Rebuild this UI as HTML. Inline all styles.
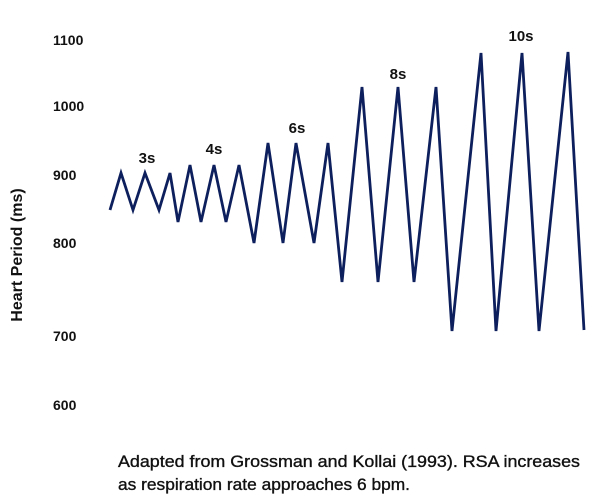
<!DOCTYPE html>
<html><head><meta charset="utf-8"><style>
body{margin:0;background:#fff;}
svg{display:block;}
text{font-family:"Liberation Sans",sans-serif;fill:#111;}
</style></head><body>
<svg width="600" height="501" viewBox="0 0 600 501">
<g font-size="14" font-weight="bold">
<text x="53" y="45">1100</text>
<text x="53" y="111">1000</text>
<text x="53" y="180">900</text>
<text x="53" y="248">800</text>
<text x="53" y="341">700</text>
<text x="53" y="410">600</text>
</g>
<text transform="translate(22,255) rotate(-90)" text-anchor="middle" font-size="16" font-weight="bold">Heart Period (ms)</text>
<g font-size="15" font-weight="bold" text-anchor="middle">
<text x="147" y="163">3s</text>
<text x="214" y="154">4s</text>
<text x="297" y="133">6s</text>
<text x="398" y="79">8s</text>
<text x="521" y="41">10s</text>
</g>
<polyline fill="none" stroke="#0d1f5c" stroke-width="2.8" stroke-linejoin="miter" points="110,210 121,173 133,210 145,173 159,210 170,173 178,222 190,165 201,222 214,165 226,222 239,165 254,243 268,143 283,243 296,143 314,243 328,143 342,282 362,87 378,282 398,87 414,282 436,87 452,331 481,53 496,331 522,53 539,331 568,52 584,330"/>
<g font-size="16.5" stroke="#111" stroke-width="0.35">
<text x="118" y="467" textLength="462" lengthAdjust="spacingAndGlyphs">Adapted from Grossman and Kollai (1993). RSA increases</text>
<text x="118" y="490" textLength="292" lengthAdjust="spacingAndGlyphs">as respiration rate approaches 6 bpm.</text>
</g>
</svg>
</body></html>
